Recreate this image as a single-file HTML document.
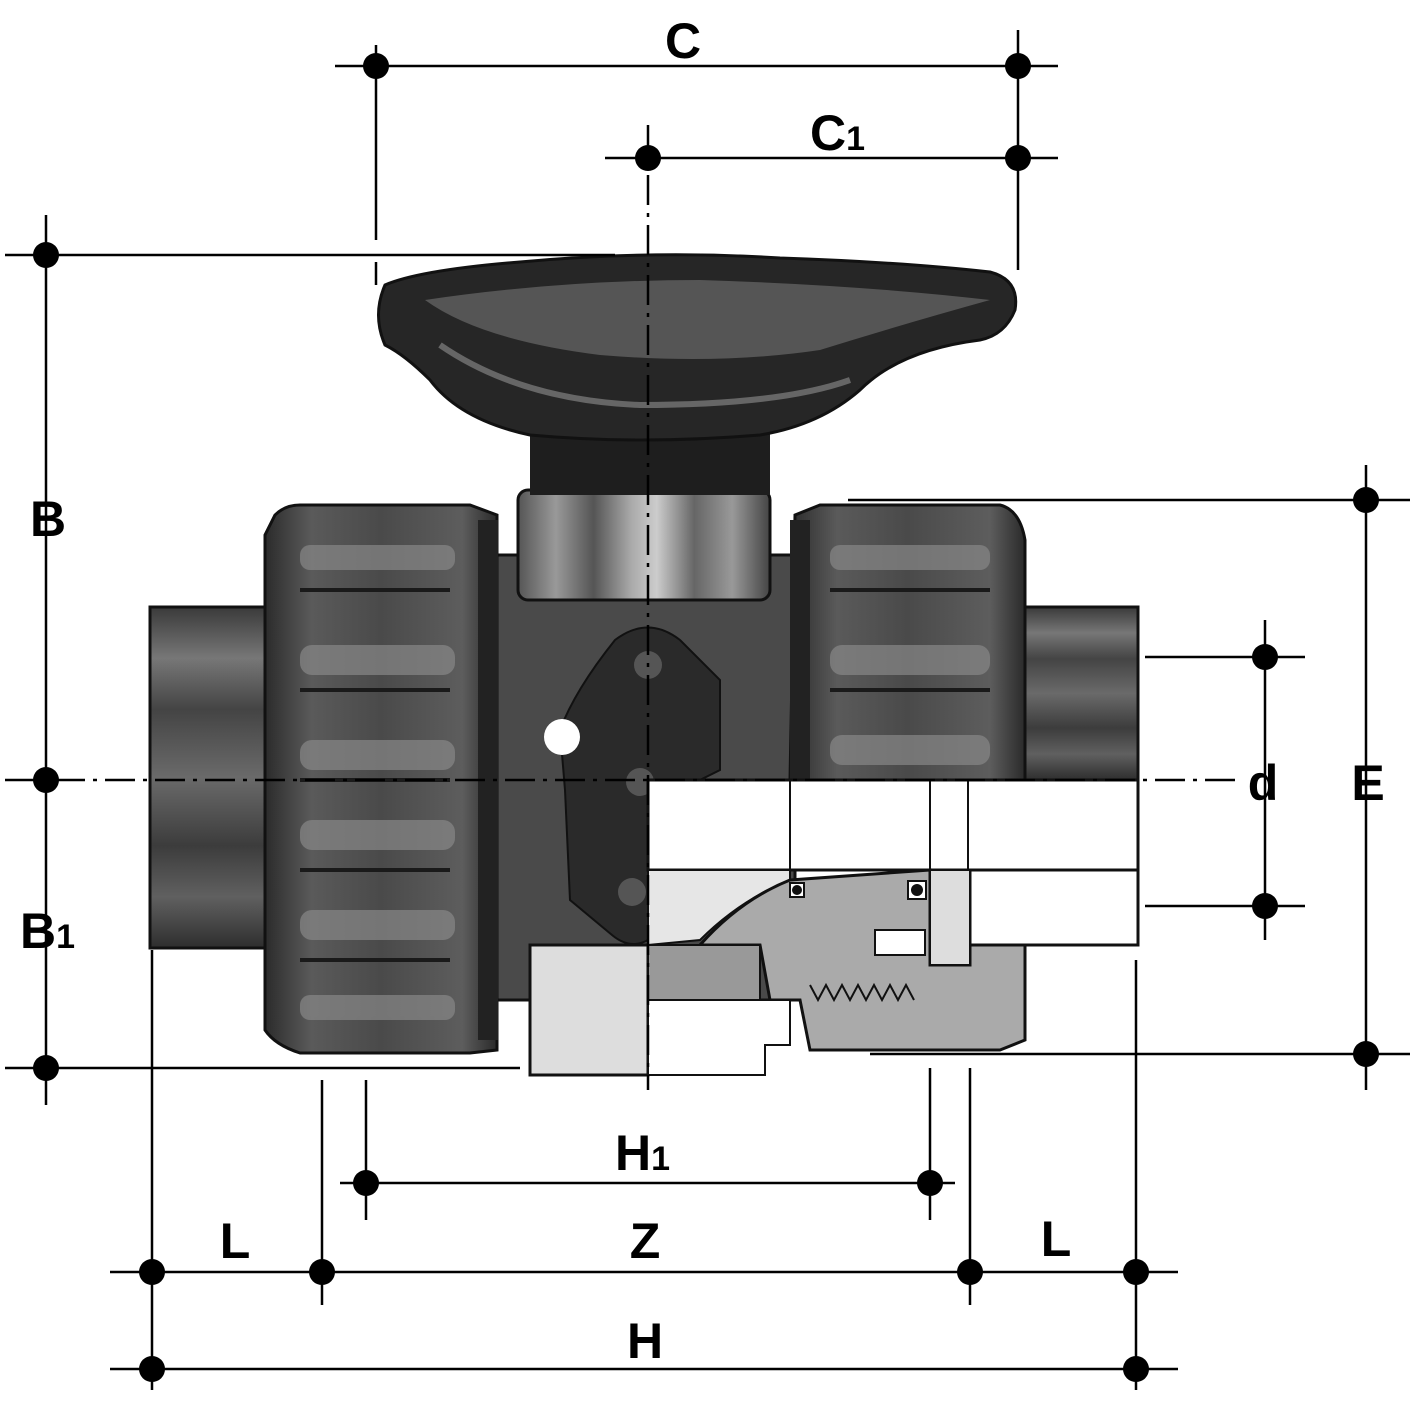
<!DOCTYPE html>
<html><head><meta charset="utf-8"><style>
html,body{margin:0;padding:0;background:#fff}
svg{display:block}
text{font-family:"Liberation Sans",Arial,sans-serif;font-weight:bold;fill:#000}
</style></head><body>
<svg width="1413" height="1413" viewBox="0 0 1413 1413" xmlns="http://www.w3.org/2000/svg">
<defs>
<linearGradient id="pipe" x1="0" y1="0" x2="0" y2="1">
<stop offset="0" stop-color="#3a3a3a"/><stop offset="0.15" stop-color="#777"/><stop offset="0.3" stop-color="#444"/><stop offset="0.5" stop-color="#6a6a6a"/><stop offset="0.7" stop-color="#3c3c3c"/><stop offset="0.85" stop-color="#606060"/><stop offset="1" stop-color="#2e2e2e"/>
</linearGradient>
<linearGradient id="nut" x1="0" y1="0" x2="1" y2="0">
<stop offset="0" stop-color="#2b2b2b"/><stop offset="0.2" stop-color="#5a5a5a"/><stop offset="0.5" stop-color="#4a4a4a"/><stop offset="0.85" stop-color="#5d5d5d"/><stop offset="1" stop-color="#2a2a2a"/>
</linearGradient>
<linearGradient id="stem" x1="0" y1="0" x2="1" y2="0">
<stop offset="0" stop-color="#555"/><stop offset="0.15" stop-color="#999"/><stop offset="0.3" stop-color="#555"/><stop offset="0.45" stop-color="#aaa"/><stop offset="0.55" stop-color="#ccc"/><stop offset="0.7" stop-color="#666"/><stop offset="0.85" stop-color="#999"/><stop offset="1" stop-color="#444"/>
</linearGradient>
</defs>

<!-- pipe ends -->
<rect x="150" y="607" width="120" height="341" fill="url(#pipe)" stroke="#111" stroke-width="3"/>
<rect x="1020" y="607" width="118" height="173" fill="url(#pipe)" stroke="#111" stroke-width="3"/>

<!-- body -->
<rect x="490" y="555" width="305" height="445" fill="#4a4a4a" stroke="#111" stroke-width="3"/>
<!-- stem block -->
<rect x="518" y="490" width="252" height="110" rx="10" fill="url(#stem)" stroke="#111" stroke-width="3"/>
<!-- handle neck -->
<rect x="530" y="425" width="240" height="70" fill="#1e1e1e"/>
<!-- handle -->
<path d="M385 285 Q420 270 520 262 Q650 250 780 258 Q900 262 990 272 Q1020 280 1015 310 Q1005 335 980 340 Q900 350 860 390 Q820 425 760 435 Q640 445 530 435 Q460 420 430 380 Q405 355 385 345 Q372 315 385 285Z" fill="#262626" stroke="#111" stroke-width="3"/>
<path d="M425 300 Q560 280 700 280 Q860 285 990 300 Q900 325 820 350 Q720 365 600 355 Q480 340 425 300Z" fill="#555"/>
<path d="M440 345 Q520 400 640 405 Q780 405 850 380" fill="none" stroke="#666" stroke-width="6"/>

<!-- left union nut -->
<path d="M275 515 Q285 505 300 505 L470 505 L497 515 L497 1050 L470 1053 L300 1053 Q275 1045 265 1030 L265 535Z" fill="url(#nut)" stroke="#111" stroke-width="3"/>
<!-- right union nut -->
<path d="M795 515 L820 505 L1000 505 Q1020 510 1025 540 L1025 780 L790 780Z" fill="url(#nut)" stroke="#111" stroke-width="3"/>
<g fill="none" stroke="#1a1a1a" stroke-width="4">
<path d="M300 590 L450 590 M300 690 L450 690 M300 870 L450 870 M300 960 L450 960 M300 780 L450 780"/>
<path d="M830 590 L990 590 M830 690 L990 690"/>
</g>
<g fill="#888" opacity="0.7">
<rect x="300" y="545" width="155" height="25" rx="10"/><rect x="300" y="645" width="155" height="30" rx="12"/><rect x="300" y="740" width="155" height="30" rx="12"/>
<rect x="300" y="820" width="155" height="30" rx="12"/><rect x="300" y="910" width="155" height="30" rx="12"/><rect x="300" y="995" width="155" height="25" rx="10"/>
<rect x="830" y="545" width="160" height="25" rx="10"/><rect x="830" y="645" width="160" height="30" rx="12"/><rect x="830" y="735" width="160" height="30" rx="12"/>
</g>
<!-- teeth -->
<g fill="#222">
<rect x="478" y="520" width="20" height="520"/>
<rect x="790" y="520" width="20" height="260"/>
</g>

<!-- lock plate -->
<path d="M615 640 Q648 615 680 640 L720 680 L720 770 L700 780 L648 780 L648 940 Q630 950 612 935 L570 900 L565 790 L560 730 Q575 690 615 640Z" fill="#2a2a2a" stroke="#111" stroke-width="2"/>
<circle cx="648" cy="665" r="14" fill="#555"/>
<circle cx="562" cy="737" r="18" fill="#fff"/>
<circle cx="640" cy="782" r="14" fill="#555"/>
<circle cx="632" cy="892" r="14" fill="#555"/>

<!-- lower left body cap -->
<path d="M530 945 L648 945 L648 1075 L530 1075 Z" fill="#ddd" stroke="#111" stroke-width="3"/>

<!-- cutaway section -->
<rect x="648" y="780" width="490" height="90" fill="#fff" stroke="#111" stroke-width="3"/>
<rect x="970" y="870" width="168" height="75" fill="#fff" stroke="#111" stroke-width="3"/>
<path d="M648 870 L790 870 L790 880 Q740 900 700 940 L648 945Z" fill="#e6e6e6" stroke="#111" stroke-width="2"/>
<path d="M700 945 Q740 900 790 880 L930 870 L930 965 L970 965 L970 945 L1025 945 L1025 1040 L1000 1050 L810 1050 L800 1000 L770 1000 L760 945Z" fill="#aaa" stroke="#111" stroke-width="3"/>
<path d="M648 945 L760 945 L760 1000 L648 1000Z" fill="#999" stroke="#111" stroke-width="2"/>
<path d="M648 1000 L790 1000 L790 1045 L765 1045 L765 1075 L648 1075Z" fill="#fff" stroke="#111" stroke-width="2"/>
<rect x="875" y="930" width="50" height="25" fill="#fff" stroke="#111" stroke-width="2"/>
<rect x="930" y="870" width="40" height="95" fill="#ddd" stroke="#111" stroke-width="2"/>
<path d="M810 985 l8 15 l8 -15 l8 15 l8 -15 l8 15 l8 -15 l8 15 l8 -15 l8 15 l8 -15 l8 15 l8 -15 l8 15" fill="none" stroke="#111" stroke-width="2"/>
<rect x="790" y="883" width="14" height="14" fill="#fff" stroke="#111" stroke-width="2"/><circle cx="797" cy="890" r="5" fill="#111"/>
<rect x="908" y="881" width="18" height="18" fill="#fff" stroke="#111" stroke-width="2"/><circle cx="917" cy="890" r="6" fill="#111"/>
<line x1="790" y1="780" x2="790" y2="870" stroke="#111" stroke-width="2"/>
<line x1="930" y1="780" x2="930" y2="870" stroke="#111" stroke-width="2"/>
<line x1="968" y1="780" x2="968" y2="870" stroke="#111" stroke-width="2"/>

<!-- dimension lines -->
<g stroke="#000" stroke-width="2.5" fill="none">
<line x1="335" y1="66" x2="1058" y2="66"/>
<line x1="605" y1="158" x2="1058" y2="158"/>
<line x1="376" y1="45" x2="376" y2="240"/>
<line x1="376" y1="262" x2="376" y2="285"/>
<line x1="1018" y1="30" x2="1018" y2="270"/>
<line x1="5" y1="255" x2="615" y2="255"/>
<line x1="46" y1="215" x2="46" y2="1105"/>
<line x1="5" y1="1068" x2="520" y2="1068"/>
<line x1="848" y1="500" x2="1410" y2="500"/>
<line x1="870" y1="1054" x2="1410" y2="1054"/>
<line x1="1366" y1="465" x2="1366" y2="1090"/>
<line x1="1145" y1="657" x2="1305" y2="657"/>
<line x1="1145" y1="906" x2="1305" y2="906"/>
<line x1="1265" y1="620" x2="1265" y2="940"/>
<line x1="340" y1="1183" x2="955" y2="1183"/>
<line x1="366" y1="1080" x2="366" y2="1220"/>
<line x1="930" y1="1068" x2="930" y2="1220"/>
<line x1="110" y1="1272" x2="1178" y2="1272"/>
<line x1="110" y1="1369" x2="1178" y2="1369"/>
<line x1="152" y1="950" x2="152" y2="1390"/>
<line x1="322" y1="1080" x2="322" y2="1305"/>
<line x1="970" y1="1068" x2="970" y2="1305"/>
<line x1="1136" y1="960" x2="1136" y2="1390"/>
<line x1="648" y1="125" x2="648" y2="1090" stroke-dasharray="30,8,4,8"/>
<line x1="5" y1="780" x2="1240" y2="780" stroke-dasharray="30,8,4,8"/>
</g>
<g fill="#000">
<circle cx="376" cy="66" r="13"/><circle cx="1018" cy="66" r="13"/>
<circle cx="648" cy="158" r="13"/><circle cx="1018" cy="158" r="13"/>
<circle cx="46" cy="255" r="13"/><circle cx="46" cy="780" r="13"/><circle cx="46" cy="1068" r="13"/>
<circle cx="1366" cy="500" r="13"/><circle cx="1366" cy="1054" r="13"/>
<circle cx="1265" cy="657" r="13"/><circle cx="1265" cy="906" r="13"/>
<circle cx="366" cy="1183" r="13"/><circle cx="930" cy="1183" r="13"/>
<circle cx="152" cy="1272" r="13"/><circle cx="322" cy="1272" r="13"/><circle cx="970" cy="1272" r="13"/><circle cx="1136" cy="1272" r="13"/>
<circle cx="152" cy="1369" r="13"/><circle cx="1136" cy="1369" r="13"/>
</g>

<!-- labels -->
<g font-size="50">
<text x="683" y="58" text-anchor="middle">C</text>
<text x="810" y="150">C<tspan font-size="34">1</tspan></text>
<text x="48" y="536" text-anchor="middle">B</text>
<text x="20" y="948">B<tspan font-size="34">1</tspan></text>
<text x="1263" y="800" text-anchor="middle">d</text>
<text x="1368" y="800" text-anchor="middle">E</text>
<text x="615" y="1170">H<tspan font-size="34">1</tspan></text>
<text x="235" y="1258" text-anchor="middle">L</text>
<text x="645" y="1258" text-anchor="middle">Z</text>
<text x="1056" y="1256" text-anchor="middle">L</text>
<text x="645" y="1358" text-anchor="middle">H</text>
</g>
</svg>
</body></html>
